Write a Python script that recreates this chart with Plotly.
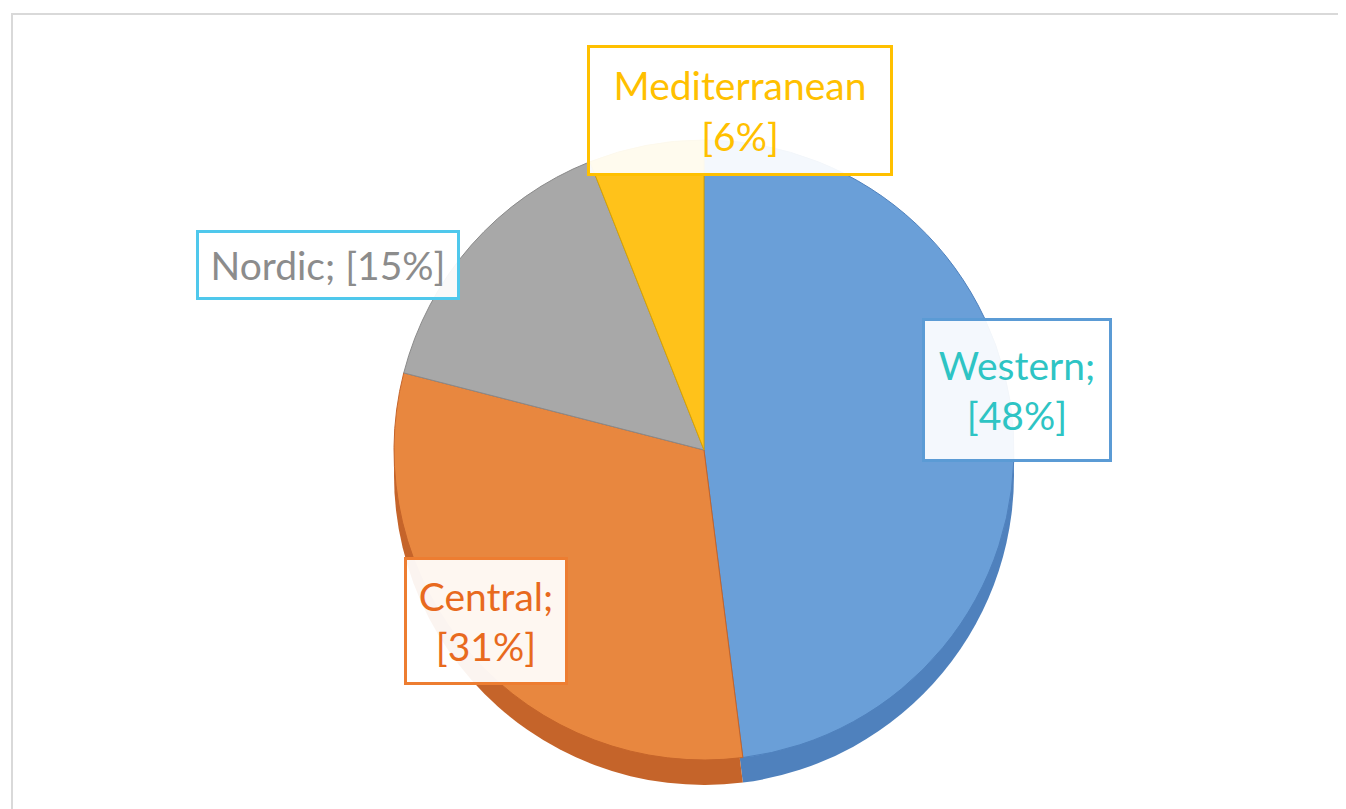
import plotly.graph_objects as go

regions = ["Western", "Central", "Nordic", "Mediterranean"]
shares = [48, 31, 15, 6]
top_colors = ["#6A9FD8", "#E8873F", "#A8A8A8", "#FFC21A"]
side_colors = ["#4F81BD", "#C5642A", "#8A8A8A", "#D9A400"]
label_texts = ["Western;<br>[48%]", "Central;<br>[31%]", "Nordic; [15%]", "Mediterranean<br>[6%]"]
label_font_colors = ["#2EC4C4", "#E86A1E", "#8C8C8C", "#FFC000"]
label_border_colors = ["#5B9BD5", "#ED7D31", "#4FC8EC", "#FFC000"]

W, H = 1346, 809
OFF = 8  # page body margin

def px_x(v):
    return (v - OFF) / W

def px_y(v):
    return 1 - (v - OFF) / H

fig = go.Figure()

# depth (side) of the pie
fig.add_trace(go.Pie(
    labels=regions, values=shares, sort=False, direction="clockwise", rotation=0,
    marker=dict(colors=side_colors, line=dict(color="rgba(0,0,0,0)", width=0)),
    textinfo="none", hoverinfo="skip", showlegend=False,
    domain=dict(x=[px_x(394), px_x(1014)], y=[px_y(785), px_y(165)]),
))
# top face
fig.add_trace(go.Pie(
    labels=regions, values=shares, sort=False, direction="clockwise", rotation=0,
    marker=dict(colors=top_colors, line=dict(color=side_colors, width=1)),
    textinfo="none", showlegend=False,
    domain=dict(x=[px_x(394), px_x(1014)], y=[px_y(760), px_y(140)]),
))

# label boxes: (center x, center y, width, height) in pixels
label_boxes = [(1017, 390, 188, 142), (486, 621, 162, 126), (328, 265, 262, 68), (740, 110, 304, 129)]
for txt, fc, bc, (cx, cy, bw, bh) in zip(label_texts, label_font_colors, label_border_colors, label_boxes):
    fig.add_annotation(
        x=px_x(cx), y=px_y(cy), xref="paper", yref="paper", xanchor="center", yanchor="middle",
        text=txt, showarrow=False, align="center",
        font=dict(family="Lato, Open Sans, sans-serif", size=39, color=fc),
        bgcolor="rgba(255,255,255,0.93)", bordercolor=bc, borderwidth=3,
        width=bw - 6, height=bh - 6,
    )

fig.add_shape(type="rect", xref="paper", yref="paper",
              x0=px_x(12), x1=px_x(1370), y0=px_y(840), y1=px_y(14),
              line=dict(color="#D9D9D9", width=2), fillcolor="rgba(0,0,0,0)", layer="below")

fig.update_layout(
    width=W, height=H, margin=dict(l=0, r=0, t=0, b=0),
    paper_bgcolor="white", plot_bgcolor="white",
)

fig.write_html("out.html")
